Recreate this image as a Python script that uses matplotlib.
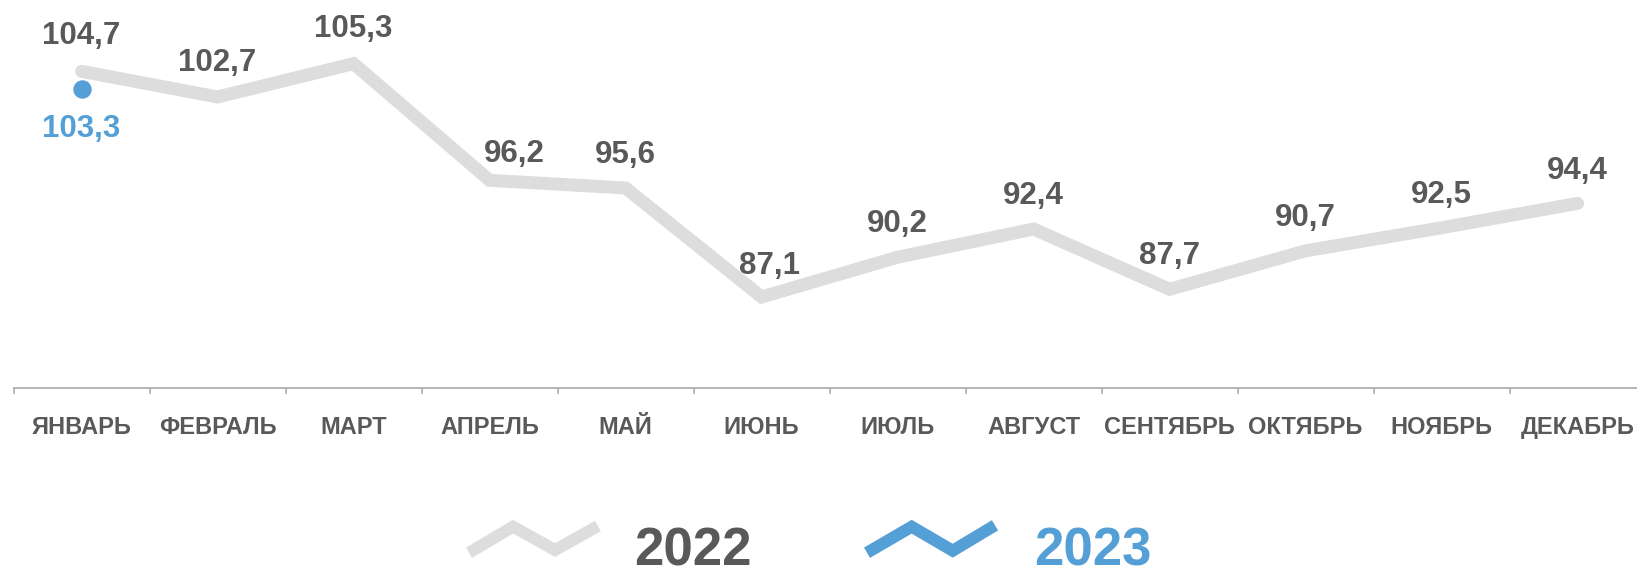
import matplotlib
matplotlib.use("Agg")
import matplotlib.pyplot as plt
from matplotlib.lines import Line2D
import matplotlib.transforms as mtransforms

plt.rcParams['font.family'] = ['Liberation Sans', 'DejaVu Sans']

months = ["ЯНВАРЬ", "ФЕВРАЛЬ", "МАРТ", "АПРЕЛЬ", "МАЙ", "ИЮНЬ", "ИЮЛЬ",
          "АВГУСТ", "СЕНТЯБРЬ", "ОКТЯБРЬ", "НОЯБРЬ", "ДЕКАБРЬ"]
values_2022 = [104.7, 102.7, 105.3, 96.2, 95.6, 87.1, 90.2, 92.4, 87.7, 90.7, 92.5, 94.4]
values_2023 = [103.3]
series_names = ["2022", "2023"]

GRAY_LINE = "#DDDDDD"
BLUE = "#559FD7"
DARK = "#595959"
AXIS = "#AFAFAF"

W, H = 1637, 568
DPI = 100
fig = plt.figure(figsize=(W / DPI, H / DPI), dpi=DPI)

def px(v):  # pixels -> points
    return v * 72.0 / DPI

# axes in pixel geometry
ax_left, ax_bottom_px, step = 13.6, 388.0, 136.0
ymin, ymax = 80.0, 110.0
ppu = 12.82
ax_h = (ymax - ymin) * ppu
ax = fig.add_axes([ax_left / W, (H - ax_bottom_px) / H, 12 * step / W, ax_h / H])
ax.set_xlim(0, 12)
ax.set_ylim(ymin, ymax)
ax.patch.set_alpha(0)
for s in ["top", "right", "left"]:
    ax.spines[s].set_visible(False)
ax.spines["bottom"].set_color(AXIS)
ax.spines["bottom"].set_linewidth(1.3)
ax.set_yticks([])
ax.set_xticks(range(13))
ax.set_xticklabels([])
ax.tick_params(axis="x", direction="out", length=px(6), width=1.2, color=AXIS)

xs = [i + 0.5 for i in range(len(months))]

ax.plot(xs, values_2022, color=GRAY_LINE, lw=px(13), solid_capstyle="round",
        solid_joinstyle="miter", clip_on=False, zorder=2)
ax.plot(xs[:len(values_2023)], values_2023, "o", color=BLUE, ms=px(17),
        clip_on=False, zorder=3)

# data labels: (dx px, visual-centre height above point px)
label_pos = {0: (0, 39), 1: (0, 37.5), 2: (0, 38), 3: (25, 29.5), 5: (8, 34)}
for i, (x, v) in enumerate(zip(xs, values_2022)):
    dx, cy = label_pos.get(i, (0, 36))
    ax.annotate(f"{v:.1f}".replace(".", ","), (x, v),
                xytext=(px(dx), px(cy - 11.2)), textcoords="offset points",
                ha="center", va="baseline", fontsize=22.5, fontweight="bold",
                color=DARK, annotation_clip=False)
for x, v in zip(xs, values_2023):
    ax.annotate(f"{v:.1f}".replace(".", ","), (x, v),
                xytext=(0, -px(48)), textcoords="offset points",
                ha="center", va="baseline", fontsize=22.5, fontweight="bold",
                color=BLUE, annotation_clip=False)

# category labels
trans = mtransforms.blended_transform_factory(ax.transData, ax.transAxes)
for x, m in zip(xs, months):
    ax.annotate(m, (x, 0), xycoords=trans, xytext=(0, -px(46)),
                textcoords="offset points", ha="center", va="baseline",
                fontsize=17, fontweight="bold", color=DARK, annotation_clip=False)

# legend (figure pixel coordinates, y from top)
def fy(y):
    return (H - y) / H

zig_2022 = [(469, 552.7), (513, 526.7), (555, 550), (598, 526)]
zig_2023 = [(867, 552.7), (911.7, 526.7), (952.7, 550.7), (995, 525.3)]
for pts, col in [(zig_2022, GRAY_LINE), (zig_2023, BLUE)]:
    fig.add_artist(Line2D([p[0] / W for p in pts], [fy(p[1]) for p in pts],
                          transform=fig.transFigure, color=col, lw=px(12),
                          solid_joinstyle="miter", solid_capstyle="butt"))
fig.text(634 / W, fy(565), series_names[0], ha="left", va="baseline",
         fontsize=38, fontweight="bold", color=DARK)
fig.text(1034 / W, fy(565), series_names[1], ha="left", va="baseline",
         fontsize=38, fontweight="bold", color=BLUE)

fig.savefig("out.png", dpi=DPI)
